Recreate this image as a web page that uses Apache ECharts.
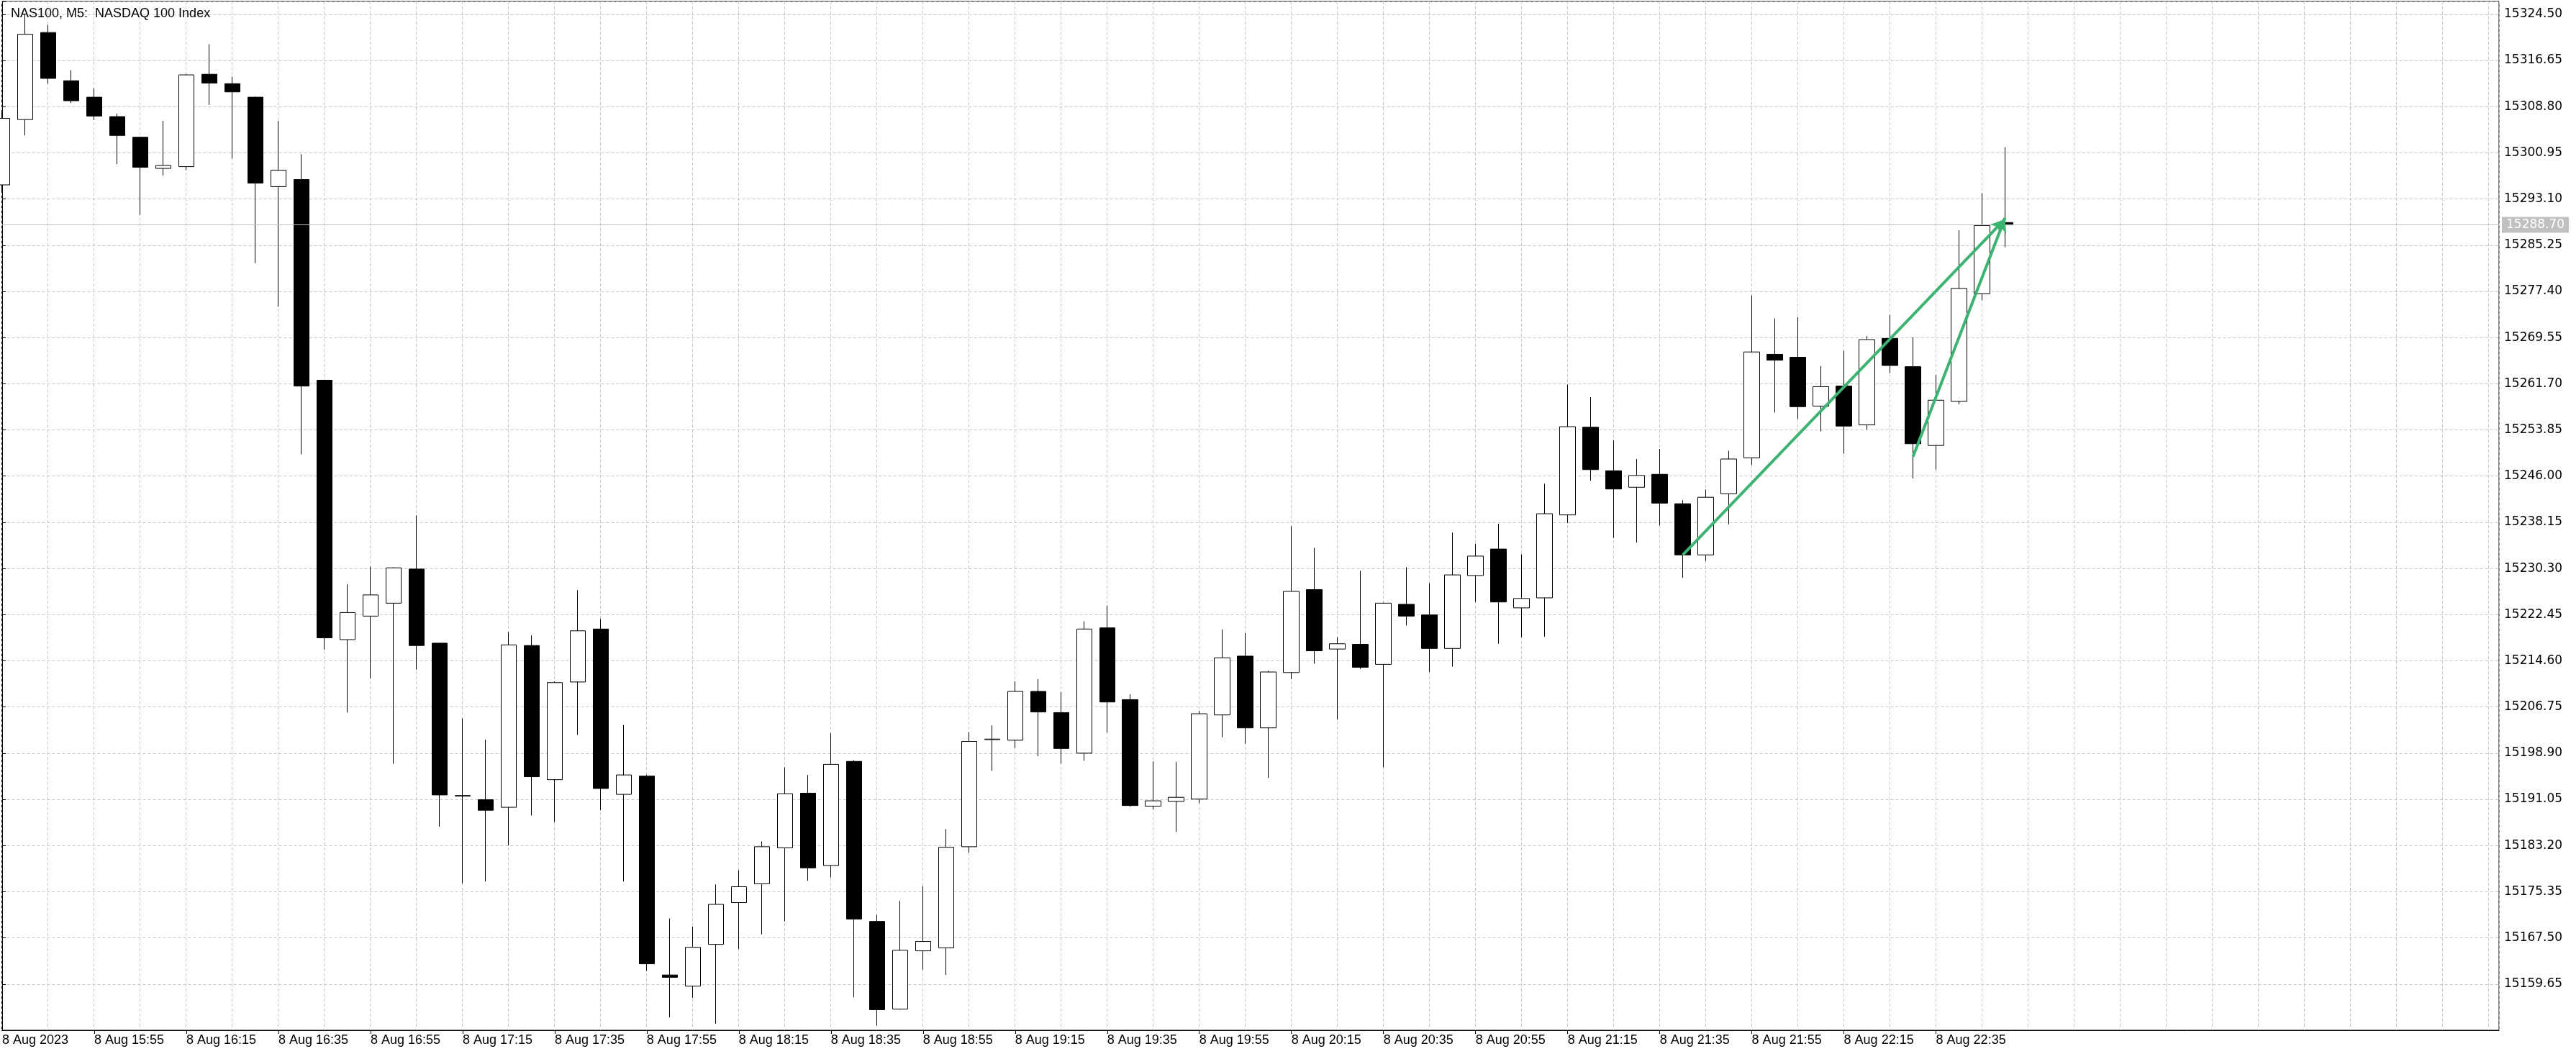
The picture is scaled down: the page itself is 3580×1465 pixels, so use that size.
<!DOCTYPE html>
<html>
<head>
<meta charset="utf-8">
<script src="https://cdn.jsdelivr.net/npm/echarts@6/dist/echarts.min.js"></script>
<style>
html,body{margin:0;padding:0;background:#fff;}
#chart{width:3580px;height:1465px;}
</style>
</head>
<body>
<div id="chart"></div>
<script>
// ---- data ----
const titleText = 'NAS100, M5:  NASDAQ 100 Index';
const barIndex = [];
for (let i = 0; i < 88; i++) barIndex.push(i);

const opens = [15295.5,15306.6,15321.4,15313.2,15310.4,15307.1,15303.6,15298.3,15298.6,15314.3,
15312.7,15310.4,15295.2,15296.4,15262.3,15218.2,15222.2,15224.4,15230.2,15217.6,
15191.7,15191.0,15189.7,15217.2,15194.4,15211.0,15220.0,15191.9,15195.0,15161.2,
15159.3,15166.4,15173.5,15176.7,15182.8,15192.1,15179.8,15197.5,15170.3,15155.4,
15165.3,15165.8,15183.0,15201.2,15201.1,15209.4,15205.8,15198.9,15220.2,15208.0,
15189.9,15190.7,15191.1,15205.4,15215.4,15203.2,15212.6,15226.7,15216.6,15217.4,
15214.0,15224.2,15222.4,15216.7,15229.1,15233.6,15223.6,15225.3,15239.4,15254.3,
15246.9,15244.1,15246.3,15241.3,15232.6,15243.0,15249.1,15266.7,15266.2,15257.9,
15261.3,15254.7,15269.4,15264.6,15251.2,15258.7,15277.0,15289.1];
const closes = [15306.8,15321.1,15313.6,15309.8,15307.2,15303.9,15298.5,15298.8,15314.2,15312.8,
15311.3,15295.8,15298.0,15261.3,15218.5,15222.8,15225.8,15230.4,15217.2,15191.8,
15191.6,15189.2,15217.3,15194.9,15210.9,15219.7,15192.9,15195.2,15163.1,15160.8,
15165.9,15173.2,15176.2,15183.0,15192.0,15179.4,15197.0,15170.7,15155.3,15165.4,
15166.9,15182.9,15200.9,15201.3,15209.4,15205.9,15199.7,15220.0,15207.6,15190.0,
15190.8,15191.4,15205.6,15215.1,15203.2,15212.7,15226.4,15216.3,15217.5,15213.5,
15224.4,15222.2,15216.7,15229.2,15232.4,15224.6,15225.2,15239.6,15254.4,15247.1,
15243.8,15246.1,15241.4,15232.6,15242.4,15248.9,15267.1,15265.7,15257.8,15261.2,
15254.5,15269.2,15264.8,15251.5,15258.9,15277.9,15288.6,15288.7];
const lows = [15294.5,15303.9,15312.7,15309.4,15306.5,15299.0,15290.4,15297.1,15298.0,15309.1,
15300.0,15282.2,15274.8,15249.7,15216.5,15205.8,15211.6,15197.1,15213.1,15186.4,
15176.8,15177.1,15183.2,15188.3,15187.2,15202.0,15189.2,15177.1,15161.9,15154.0,
15157.3,15152.9,15165.6,15168.1,15170.3,15177.2,15177.8,15157.4,15152.6,15155.3,
15162.1,15161.2,15182.0,15195.9,15199.8,15198.4,15197.1,15197.6,15202.4,15189.8,
15189.3,15185.5,15190.4,15201.6,15200.5,15194.7,15211.5,15214.1,15204.6,15213.2,
15196.5,15220.6,15212.7,15213.6,15224.6,15217.5,15218.6,15218.7,15238.0,15245.2,
15235.5,15234.7,15237.6,15228.7,15231.6,15237.8,15247.9,15256.8,15255.7,15253.6,
15249.8,15253.9,15263.5,15245.6,15247.1,15258.2,15275.9,15284.9];
const highs = [15308.0,15324.6,15322.7,15315.0,15311.9,15307.6,15303.7,15306.4,15314.3,15319.4,
15313.9,15310.5,15306.4,15300.7,15262.3,15227.6,15230.6,15230.5,15239.3,15217.6,
15204.8,15201.2,15219.5,15218.9,15211.1,15226.6,15221.7,15203.7,15195.2,15170.8,
15169.4,15176.6,15179.0,15183.9,15196.5,15195.2,15202.3,15197.7,15171.4,15173.8,
15176.3,15186.0,15202.5,15203.6,15211.1,15211.5,15209.3,15221.3,15224.0,15208.9,
15197.5,15197.4,15206.1,15219.9,15219.3,15212.9,15237.5,15233.8,15218.6,15229.9,
15224.5,15230.5,15227.8,15236.4,15234.5,15237.9,15232.7,15244.7,15261.6,15259.4,
15252.1,15248.9,15250.6,15241.9,15243.7,15250.3,15276.7,15272.8,15273.0,15264.7,
15267.3,15269.8,15273.4,15269.6,15263.2,15287.8,15294.1,15301.9];

const xLabelValues = [0,4,8,12,16,20,24,28,32,36,40,44,48,52,56,60,64,68,72,76,80,84];
const xLabels = ['8 Aug 2023','8 Aug 15:55','8 Aug 16:15','8 Aug 16:35','8 Aug 16:55','8 Aug 17:15',
'8 Aug 17:35','8 Aug 17:55','8 Aug 18:15','8 Aug 18:35','8 Aug 18:55','8 Aug 19:15','8 Aug 19:35',
'8 Aug 19:55','8 Aug 20:15','8 Aug 20:35','8 Aug 20:55','8 Aug 21:15','8 Aug 21:35','8 Aug 21:55',
'8 Aug 22:15','8 Aug 22:35'];
const yTickLabels = ['15324.50','15316.65','15308.80','15300.95','15293.10','15285.25','15277.40',
'15269.55','15261.70','15253.85','15246.00','15238.15','15230.30','15222.45','15214.60','15206.75',
'15198.90','15191.05','15183.20','15175.35','15167.50','15159.65'];
const yStep = 7.85;
const yMin = 15151.80;
const yMax = 15326.68;
const xMin = -0.015625;
const xMax = 108.455;
const lastPrice = 15288.70;
const trendStarts = [[73, 15232.6], [83, 15249.3]];
const trendEnds = [[87, 15289.7], [87, 15289.9]];

// ---- build ----
const candles = barIndex.map((i) => [i, opens[i], closes[i], lows[i], highs[i]]);
const yLabelSet = new Set(yTickLabels);
const chart = echarts.init(document.getElementById('chart'), null, {renderer: 'canvas'});
const gridColor = '#c8c8c8';
const trendLines = trendStarts.map((s, k) => [
  {coord: s, symbol: 'none', lineStyle: {color: '#3cb371', width: 4, type: 'solid'}, label: {show: false}},
  {coord: trendEnds[k], symbol: 'arrow', symbolSize: [14, 20]}
]);

chart.setOption({
  animation: false,
  backgroundColor: '#ffffff',
  title: {
    text: titleText, left: 10, top: 5,
    textStyle: {fontFamily: 'Liberation Sans', fontSize: 18, fontWeight: 'normal', color: '#000'}
  },
  grid: {left: 2, right: 107, top: 2, bottom: 33, show: true, borderColor: '#000', borderWidth: 1, backgroundColor: 'transparent'},
  xAxis: [{
    type: 'value', min: xMin, max: xMax, position: 'bottom',
    axisLine: {show: true, onZero: false, lineStyle: {color: '#000', width: 1}},
    axisTick: {show: true, customValues: xLabelValues.slice(1), length: 5, lineStyle: {color: '#000'}},
    splitLine: {show: false},
    axisLabel: {
      show: true, customValues: xLabelValues, align: 'left', margin: 5,
      fontFamily: 'Liberation Sans', fontSize: 18, color: '#000',
      formatter: (v) => { const k = xLabelValues.indexOf(Math.round(v)); return k >= 0 ? xLabels[k] : ''; }
    }
  }, {
    type: 'value', min: 0, max: xMax, interval: 2, position: 'top',
    axisLine: {show: false}, axisTick: {show: false}, axisLabel: {show: false},
    splitLine: {show: true, lineStyle: {color: gridColor, type: [4, 3], width: 1}}
  }],
  yAxis: {
    type: 'value', position: 'right', min: yMin, max: yMax, interval: yStep, scale: true,
    axisLine: {show: true, lineStyle: {color: '#000', width: 1}},
    axisTick: {show: true, length: 5, lineStyle: {color: '#000'}},
    axisLabel: {
      show: true, margin: 7, fontFamily: 'DejaVu Sans', fontSize: 17, color: '#000',
      formatter: (v) => { const s = v.toFixed(2); return yLabelSet.has(s) ? s : ''; }
    },
    splitLine: {show: true, lineStyle: {color: gridColor, type: [4, 3], width: 1}}
  },
  series: [{
    type: 'candlestick',
    xAxisIndex: 0, yAxisIndex: 0,
    data: candles,
    barWidth: 22,
    clip: true,
    itemStyle: {color: '#ffffff', color0: '#000000', borderColor: '#000000', borderColor0: '#000000', borderWidth: 1},
    markLine: {
      silent: true, animation: false,
      symbol: ['none', 'none'],
      data: [
        {yAxis: lastPrice, lineStyle: {color: '#c0c0c0', width: 1, type: 'solid'},
         label: {show: true, position: 'end', distance: 4, formatter: lastPrice.toFixed(2),
                 backgroundColor: '#c0c0c0', color: '#ffffff', padding: [3, 6, 2, 6],
                 fontFamily: 'DejaVu Sans', fontSize: 17}}
      ].concat(trendLines)
    }
  }]
});
</script>
</body>
</html>
